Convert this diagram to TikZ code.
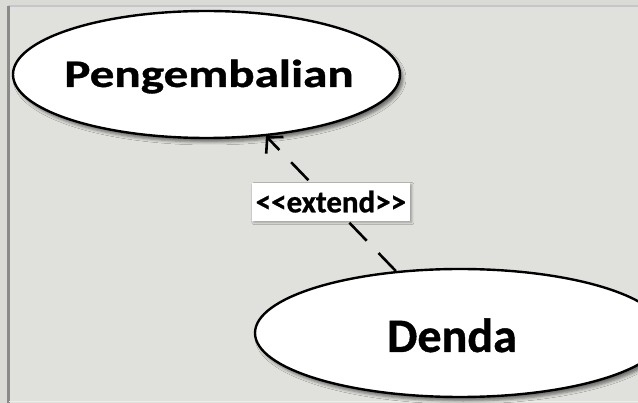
\documentclass[tikz,border=0pt]{standalone}
\usepackage{fontspec}
\setmainfont{Carlito}[BoldFeatures={FakeBold=0.8}]
\usetikzlibrary{arrows.meta,shapes.geometric,shadows.blur}
\definecolor{canvas}{HTML}{E0E0DC}
\definecolor{margin}{HTML}{DADAD7}
\definecolor{rulelight}{HTML}{C6C6C9}
\definecolor{ruledark}{HTML}{8A8A8A}
\begin{document}
\begin{tikzpicture}[x=1pt,y=-1pt,
  usecase/.style={ellipse, draw=black, line width=2.4pt, fill=white, inner sep=0pt,
    blur shadow={shadow xshift=3pt, shadow yshift=-4pt, shadow blur radius=3pt, shadow opacity=50}},
  casetext/.style={font=\bfseries, inner sep=0pt, anchor=base},
  extendline/.style={line width=2.6pt, dash pattern=on 25pt off 17pt,
    -{Straight Barb[length=11pt, width=24pt, line width=2.6pt]}},
  stereo/.style={fill=white, font=\bfseries\fontsize{31}{32}\selectfont, inner xsep=2pt,
    minimum height=38pt, minimum width=158pt, yshift=2pt,
    blur shadow={shadow xshift=2pt, shadow yshift=-2pt, shadow blur radius=2pt, shadow opacity=30}}]
  % canvas and window frame
  \useasboundingbox (0,0) rectangle (638,403);
  \fill[margin] (0,0) rectangle (638,403);
  \fill[canvas] (9,7) rectangle (638,403);
  \fill[black!12, opacity=0.6] (9,7) rectangle (638,11);
  \draw[rulelight, line width=1.5pt] (8,6) -- (638,6);
  \draw[ruledark, line width=2.5pt] (8.5,6) -- (8.5,403);
  \draw[white!85!gray, line width=1pt] (9,402) -- (638,402);

  % use cases
  \node[usecase, minimum width=387pt, minimum height=127pt] (peng) at (206.5,74.5) {};
  \node[usecase, minimum width=410pt, minimum height=128pt] (denda) at (460,333) {};
  \node[casetext] (pengtext) at ([shift={(2.5,12.5)}]peng.center)
    {\fontsize{39}{40}\selectfont\scalebox{1.26}[1]{Pengembalian}};
  \node[casetext] (dendatext) at ([shift={(-8,19)}]denda.center)
    {\fontsize{48}{50}\selectfont Denda};

  % extend relation
  \draw[extendline] (denda.136.8) -- (peng.-46.9)
    node[midway, stereo] (ext) {<{}<{}extend>{}>};
\end{tikzpicture}
\end{document}
